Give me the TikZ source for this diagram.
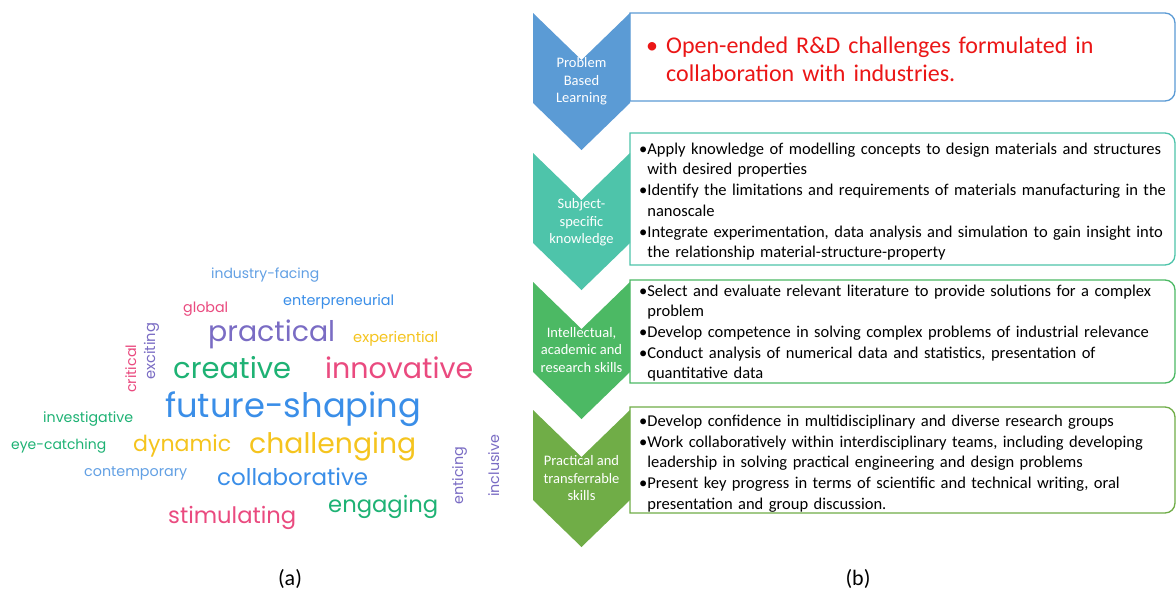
\documentclass[tikz,border=0pt]{standalone}
\usepackage{fontspec}
\setmainfont{Carlito}
\newfontfamily\wcfont{Poppins}
\usepackage{graphicx}
\hyphenpenalty=10000
\exhyphenpenalty=10000

\definecolor{cblue}{RGB}{91,155,213}
\definecolor{cteal}{RGB}{78,196,170}
\definecolor{cgreenA}{RGB}{76,185,100}
\definecolor{cgreenB}{RGB}{112,173,71}
\definecolor{cred}{RGB}{235,22,22}
\definecolor{wlblue}{RGB}{98,160,228}
\definecolor{wblue}{RGB}{58,142,232}
\definecolor{wpink}{RGB}{234,74,127}
\definecolor{wpurple}{RGB}{122,108,196}
\definecolor{wyellow}{RGB}{245,196,30}
\definecolor{wgreen}{RGB}{30,178,116}

\newlength\bulw
\newcommand\bitem[1]{\par\settowidth\bulw{\textbullet}\hangindent=\bulw\hangafter=1\noindent\textbullet#1\par}
\newcommand\wcw[2]{\resizebox{#1pt}{!}{#2}}
\newcommand\chevpath[1]{(533,#1) -- (581.5,#1+47) -- (630,#1) -- (630,#1+90) -- (581.5,#1+137) -- (533,#1+90) -- cycle}
\newcommand\boxpath[2]{(630,#1) [rounded corners=10pt] -- (1175,#1) -- (1175,#2) [sharp corners] -- (630,#2) -- cycle}

\begin{document}
\begin{tikzpicture}[x=1pt,y=-1pt,
  wc/.style={anchor=base west, inner sep=0pt, font=\wcfont},
  wcr/.style={anchor=base west, inner sep=0pt, font=\wcfont, rotate=90},
  chevlab/.style={text=white, align=center, inner sep=0pt, font=\fontsize{14.5}{17.5}\selectfont},
  boxtxt/.style={anchor=west, inner sep=0pt, text width=560pt, align=left,
    font=\fontsize{16.5}{20.7}\selectfont},
  boxline/.style={line width=1.3pt, fill=white},
  caption/.style={inner sep=0pt, font=\fontsize{22}{26}\selectfont}]
\useasboundingbox (0,0) rectangle (1176,598);
\fill[white] (0,0) rectangle (1176,598);

% ---------- (a) word cloud ----------
\node[wc, text=wlblue] (w1) at (211,278) {\wcw{108}{industry-facing}};
\node[wc, text=wpink] (w2) at (183,312) {\wcw{45}{global}};
\node[wc, text=wblue] (w3) at (283,305) {\wcw{111}{enterpreneurial}};
\node[wc, text=wpurple] (w4) at (208,341) {\wcw{127}{practical}};
\node[wc, text=wyellow] (w5) at (353,342) {\wcw{85}{experiential}};
\node[wcr, text=wpink] (w6) at (136,393) {\wcw{48}{critical}};
\node[wcr, text=wpurple] (w7) at (155,380) {\wcw{57}{exciting}};
\node[wc, text=wgreen] (w8) at (173,378) {\wcw{118}{creative}};
\node[wc, text=wpink] (w9) at (325,378) {\wcw{148}{innovative}};
\node[wc, text=wblue] (w10) at (165,417) {\wcw{256}{future-shaping}};
\node[wc, text=wgreen] (w11) at (43,422) {\wcw{90}{investigative}};
\node[wc, text=wgreen] (w12) at (11,449) {\wcw{95}{eye-catching}};
\node[wc, text=wyellow] (w13) at (133,451) {\wcw{98}{dynamic}};
\node[wc, text=wyellow] (w14) at (249,453) {\wcw{167}{challenging}};
\node[wc, text=wlblue] (w15) at (84,476) {\wcw{103}{contemporary}};
\node[wc, text=wblue] (w16) at (217,485) {\wcw{151}{collaborative}};
\node[wcr, text=wpurple] (w17) at (463,505) {\wcw{58}{enticing}};
\node[wcr, text=wpurple] (w18) at (499,497) {\wcw{62}{inclusive}};
\node[wc, text=wgreen] (w19) at (328,512) {\wcw{110}{engaging}};
\node[wc, text=wpink] (w20) at (168,523) {\wcw{128}{stimulating}};

% ---------- (b) chevron list ----------
\draw[boxline, draw=cblue] \boxpath{13}{101};
\draw[boxline, draw=cteal] \boxpath{133}{265};
\draw[boxline, draw=cgreenA] \boxpath{280}{383};
\draw[boxline, draw=cgreenB] \boxpath{407}{513};

\fill[cblue] \chevpath{13};
\fill[cteal] \chevpath{153};
\fill[cgreenA] \chevpath{282};
\fill[cgreenB] \chevpath{410};

\node[chevlab] (c1) at (581.5,81.5) {Problem\\Based\\Learning};
\node[chevlab] (c2) at (581.5,222.5) {Subject-\\specific\\knowledge};
\node[chevlab] (c3) at (581.5,350) {Intellectual,\\academic and\\research skills};
\node[chevlab] (c4) at (581.5,478.5) {Practical and\\transferrable\\skills};

\node[boxtxt, text=cred, font=\fontsize{24}{28}\selectfont] (t1) at (646,59)
  {\settowidth\bulw{\textbullet\ }\hangindent=\bulw\hangafter=1\noindent\textbullet\ Open-ended R\&D challenges formulated in\newline collaboration with industries.\par};

\node[boxtxt] (t2) at (639,197)
  {\bitem{Apply knowledge of modelling concepts to design materials and structures\newline with desired properties}
   \bitem{Identify the limitations and requirements of materials manufacturing in the\newline nanoscale}
   \bitem{Integrate experimentation, data analysis and simulation to gain insight into\newline the relationship material-structure-property}};

\node[boxtxt] (t3) at (639,328.5)
  {\bitem{Select and evaluate relevant literature to provide solutions for a complex\newline problem}
   \bitem{Develop competence in solving complex problems of industrial relevance}
   \bitem{Conduct analysis of numerical data and statistics, presentation of\newline quantitative data}};

\node[boxtxt] (t4) at (639,459)
  {\bitem{Develop confidence in multidisciplinary and diverse research groups}
   \bitem{Work collaboratively within interdisciplinary teams, including developing\newline leadership in solving practical engineering and design problems}
   \bitem{Present key progress in terms of scientific and technical writing, oral\newline presentation and group discussion.}};

% ---------- captions ----------
\node[caption] (ca) at (290,579) {(a)};
\node[caption] (cb) at (858,579) {(b)};
\end{tikzpicture}
\end{document}
